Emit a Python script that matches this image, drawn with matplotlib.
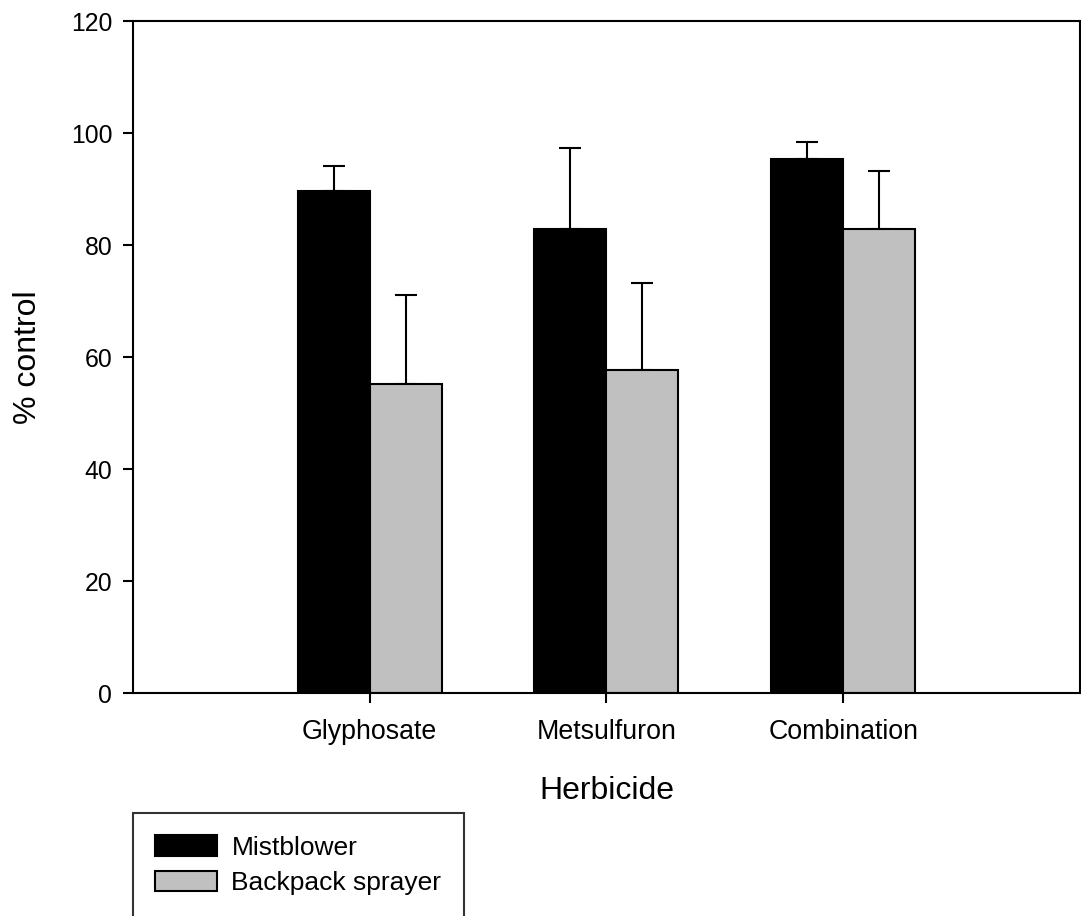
import numpy as np
import matplotlib
matplotlib.use("Agg")
from matplotlib import pyplot as plt

plt.rcParams['font.family'] = ['Liberation Sans', 'DejaVu Sans']

herbicides = ['Glyphosate', 'Metsulfuron', 'Combination']
mist = [89.6, 82.9, 95.4]
mist_err = [4.5, 14.5, 3.0]
backpack = [55.1, 57.7, 82.8]
backpack_err = [16.0, 15.5, 10.5]
series_names = ['Mistblower', 'Backpack sprayer']

fig = plt.figure(figsize=(10.81, 9.16), dpi=100)
ax = fig.add_axes([0.123, 0.2434, 0.876, 0.7336])

x = np.arange(1, len(herbicides) + 1)
w = 0.304

b1 = ax.bar(x - w/2, mist, w, color='black', edgecolor='black', lw=1.5,
            label=series_names[0], zorder=2)
b2 = ax.bar(x + w/2, backpack, w, color='#c0c0c0', edgecolor='black', lw=1.5,
            label=series_names[1], zorder=2)

# upper error bars only
ax.errorbar(x - w/2, mist, yerr=[np.zeros(3), mist_err], fmt='none',
            ecolor='black', elinewidth=1.5, capsize=8, capthick=1.5, zorder=1)
ax.errorbar(x + w/2, backpack, yerr=[np.zeros(3), backpack_err], fmt='none',
            ecolor='black', elinewidth=1.5, capsize=8, capthick=1.5, zorder=1)

ax.set_xlim(0, 4)
ax.set_ylim(0, 120)
ax.set_yticks(np.arange(0, 121, 20))
ax.set_xticks(x)
ax.set_xticklabels(herbicides, fontsize=19.3)
ax.tick_params(axis='y', labelsize=17.8, length=7, width=1.5, direction='out', pad=8)
ax.tick_params(axis='x', length=7, width=1.5, direction='out', pad=12)
for s in ax.spines.values():
    s.set_linewidth(1.5)

ax.set_xlabel('Herbicide', fontsize=23, labelpad=22)
ax.set_ylabel('% control', fontsize=23, labelpad=20)

leg = fig.legend(handles=[b1, b2], loc='upper left',
                 bbox_to_anchor=(0.123, 0.1124), fontsize=19,
                 frameon=True, fancybox=False, edgecolor='black',
                 handlelength=2.35, handleheight=0.8, labelspacing=0.42,
                 borderpad=0.85, borderaxespad=0, handletextpad=0.53)
leg.get_frame().set_linewidth(1.5)

fig.savefig('out.png', dpi=100)
